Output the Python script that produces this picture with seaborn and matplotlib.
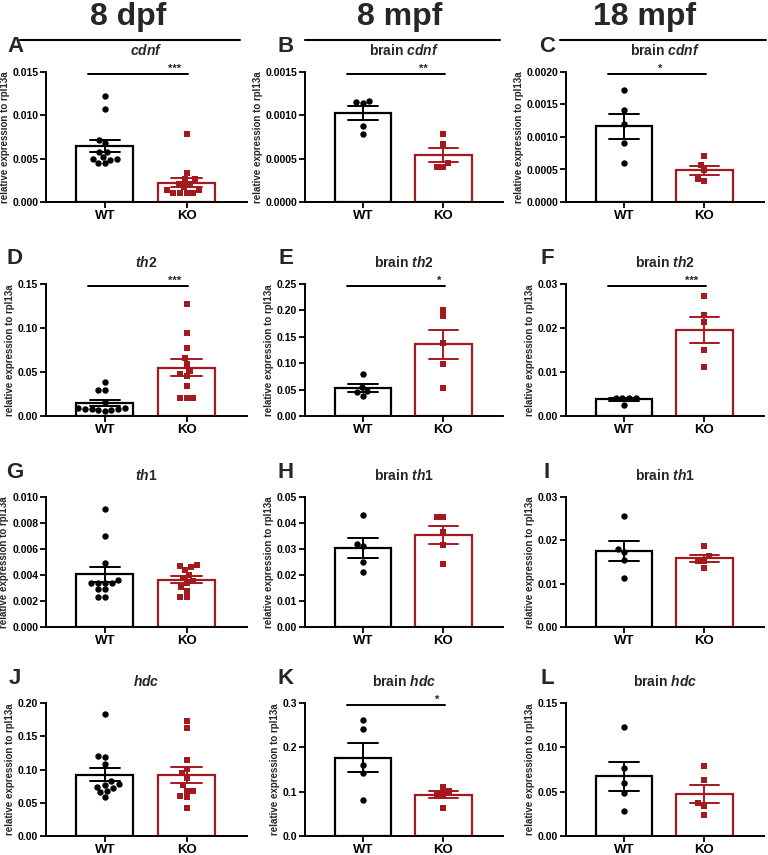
"""Recreate the 4x3 qPCR figure (WT vs KO, relative expression to rpl13a)."""

import matplotlib

matplotlib.use("Agg")
import matplotlib.pyplot as plt
import pandas as pd
import seaborn as sns
from matplotlib.lines import Line2D
from matplotlib.ticker import FormatStrFormatter, MultipleLocator

# ---- values ----
groups = ["WT", "KO"]
stage_labels = ["8 dpf", "8 mpf", "18 mpf"]
gene_rows = ["cdnf", "th2", "th1", "hdc"]
panel_letters = list("ABCDEFGHIJKL")

cdnf_8dpf_wt = [0.0122, 0.0107, 0.0072, 0.0068, 0.0058, 0.0058, 0.0050, 0.0049, 0.0050, 0.0052, 0.0045, 0.0045]
cdnf_8dpf_ko = [0.0079, 0.0033, 0.0026, 0.0026, 0.0021, 0.0021, 0.0017, 0.0014, 0.0014, 0.0010, 0.0010, 0.0010, 0.0010]
cdnf_8mpf_wt = [0.00115, 0.00114, 0.00116, 0.00088, 0.00079]
cdnf_8mpf_ko = [0.00078, 0.00067, 0.00045, 0.00040, 0.00040]
cdnf_18mpf_wt = [0.00172, 0.00141, 0.00120, 0.00090, 0.00060]
cdnf_18mpf_ko = [0.00071, 0.00057, 0.00049, 0.00036, 0.00032]

th2_8dpf_wt = [0.039, 0.030, 0.030, 0.016, 0.009, 0.008, 0.008, 0.007, 0.007, 0.008, 0.009, 0.006]
th2_8dpf_ko = [0.127, 0.094, 0.077, 0.066, 0.059, 0.051, 0.048, 0.045, 0.034, 0.020, 0.020, 0.020]
th2_8mpf_wt = [0.079, 0.055, 0.047, 0.045, 0.038]
th2_8mpf_ko = [0.201, 0.189, 0.139, 0.098, 0.053]
th2_18mpf_wt = [0.0042, 0.0041, 0.0040, 0.0042, 0.0026]
th2_18mpf_ko = [0.0273, 0.0230, 0.0214, 0.0151, 0.0111]

th1_8dpf_wt = [0.0091, 0.0070, 0.0049, 0.0036, 0.0034, 0.0034, 0.0034, 0.0034, 0.0029, 0.0029, 0.0023, 0.0023]
th1_8dpf_ko = [0.0048, 0.0046, 0.0047, 0.0044, 0.0040, 0.0038, 0.0035, 0.0034, 0.0031, 0.0028, 0.0023, 0.0023]
th1_8mpf_wt = [0.043, 0.032, 0.031, 0.025, 0.021]
th1_8mpf_ko = [0.0424, 0.0424, 0.0367, 0.0316, 0.0244]
th1_18mpf_wt = [0.0255, 0.0180, 0.0172, 0.0155, 0.0114]
th1_18mpf_ko = [0.0186, 0.0164, 0.0153, 0.0153, 0.0136]

hdc_8dpf_wt = [0.184, 0.120, 0.119, 0.109, 0.082, 0.078, 0.077, 0.074, 0.072, 0.068, 0.066, 0.059]
hdc_8dpf_ko = [0.173, 0.163, 0.115, 0.101, 0.094, 0.0875, 0.0765, 0.068, 0.068, 0.060, 0.058, 0.0415]
hdc_8mpf_wt = [0.261, 0.241, 0.160, 0.141, 0.081]
hdc_8mpf_ko = [0.110, 0.102, 0.093, 0.095, 0.064]
hdc_18mpf_wt = [0.123, 0.077, 0.060, 0.048, 0.028]
hdc_18mpf_ko = [0.079, 0.063, 0.037, 0.034, 0.024]

y_max = [0.015, 0.0015, 0.0020, 0.15, 0.25, 0.03, 0.010, 0.05, 0.03, 0.20, 0.3, 0.15]
y_step = [0.005, 0.0005, 0.0005, 0.05, 0.05, 0.01, 0.002, 0.01, 0.01, 0.05, 0.1, 0.05]
y_decimals = [3, 4, 4, 2, 2, 2, 3, 2, 2, 2, 1, 2]
sig_stars = ["***", "**", "*", "***", "*", "***", "", "", "", "", "*", ""]
star_x = [0.85, 0.75, 0.45, 0.85, 0.95, 0.84, 0, 0, 0, 0, 0.92, 0]

panel_data = [
    (cdnf_8dpf_wt, cdnf_8dpf_ko), (cdnf_8mpf_wt, cdnf_8mpf_ko), (cdnf_18mpf_wt, cdnf_18mpf_ko),
    (th2_8dpf_wt, th2_8dpf_ko), (th2_8mpf_wt, th2_8mpf_ko), (th2_18mpf_wt, th2_18mpf_ko),
    (th1_8dpf_wt, th1_8dpf_ko), (th1_8mpf_wt, th1_8mpf_ko), (th1_18mpf_wt, th1_18mpf_ko),
    (hdc_8dpf_wt, hdc_8dpf_ko), (hdc_8mpf_wt, hdc_8mpf_ko), (hdc_18mpf_wt, hdc_18mpf_ko),
]

# ---- layout (pixels of the 768x855 canvas) ----
FIG_W, FIG_H = 768, 855
COL_X = [(46, 247), (305, 503), (566, 764)]
ROW_Y = [(72, 202), (284, 416), (497, 627), (703, 836)]
LETTER_X = [15, 286, 547]
HEADER_X = [128, 400, 645]
HEADER_LINES = [(20, 240), (305, 500), (560, 766)]

KO_RED = "#A3191E"
COLORS = {"WT": "black", "KO": KO_RED}
MARKERS = {"WT": "o", "KO": "s"}


def draw_panel(ax, wt, ko, idx, title):
    df = pd.DataFrame({"group": ["WT"] * len(wt) + ["KO"] * len(ko), "value": list(wt) + list(ko)})
    for g in groups:
        sub = df[df["group"] == g]
        sns.barplot(data=sub, x="group", y="value", order=groups, errorbar="se",
                    capsize=0.37, width=0.7, fill=False, color=COLORS[g], linewidth=1.6,
                    err_kws={"color": COLORS[g], "linewidth": 1.4}, ax=ax)
        sns.swarmplot(data=sub, x="group", y="value", order=groups, color=COLORS[g],
                      marker=MARKERS[g], size=4.6, ax=ax, zorder=3)

    ymax = y_max[idx]
    ax.set_ylim(0, ymax)
    ax.set_xlim(-0.72, 1.74)
    ax.yaxis.set_major_locator(MultipleLocator(y_step[idx]))
    ax.yaxis.set_major_formatter(FormatStrFormatter(f"%.{y_decimals[idx]}f"))
    ax.set_xlabel("")
    ax.set_ylabel("relative expression to rpl13a", fontsize=7, fontweight="bold", labelpad=2)
    ax.set_title(title, fontsize=10, fontweight="bold", pad=12)
    for lab in ax.get_yticklabels():
        lab.set_fontweight("bold")
    ax.tick_params(axis="y", labelsize=7.5, length=4, width=1.3, pad=1.5)
    ax.tick_params(axis="x", labelsize=9.5, length=4, width=1.3, pad=2)
    for lab in ax.get_xticklabels():
        lab.set_fontweight("bold")
    for side in ("left", "bottom"):
        ax.spines[side].set_linewidth(1.4)
    sns.despine(ax=ax)

    if sig_stars[idx]:
        y = 0.985 * ymax
        ax.plot([-0.2, 1.02], [y, y], color="black", linewidth=1.4, clip_on=False)
        ax.text(star_x[idx], y, sig_stars[idx], ha="center", va="bottom",
                fontsize=8, fontweight="bold")


def main():
    sns.set_theme(style="ticks")
    plt.rcParams["font.family"] = ["Liberation Sans", "DejaVu Sans"]
    plt.rcParams["mathtext.fontset"] = "custom"
    plt.rcParams["mathtext.rm"] = "Liberation Sans:bold"
    plt.rcParams["mathtext.it"] = "Liberation Sans:italic:bold"
    plt.rcParams["axes.edgecolor"] = "black"
    plt.rcParams["xtick.color"] = "black"
    plt.rcParams["ytick.color"] = "black"

    fig = plt.figure(figsize=(FIG_W / 100, FIG_H / 100), dpi=100)

    for i, (wt, ko) in enumerate(panel_data):
        r, c = divmod(i, 3)
        l, rt = COL_X[c]
        t, b = ROW_Y[r]
        ax = fig.add_axes([l / FIG_W, 1 - b / FIG_H, (rt - l) / FIG_W, (b - t) / FIG_H])
        gene = gene_rows[r]
        title = f"$\\mathit{{{gene}}}$" if c == 0 else f"brain $\\mathit{{{gene}}}$"
        draw_panel(ax, wt, ko, i, title)
        fig.text(LETTER_X[c] / FIG_W, 1 - (t - 25) / FIG_H, panel_letters[i],
                 fontsize=16, fontweight="bold", ha="center", va="center")

    for x, label in zip(HEADER_X, stage_labels):
        fig.text(x / FIG_W, 1 - 17 / FIG_H, label, fontsize=23, fontweight="bold",
                 ha="center", va="center")
    for x0, x1 in HEADER_LINES:
        fig.add_artist(Line2D([x0 / FIG_W, x1 / FIG_W], [1 - 40 / FIG_H] * 2,
                              color="black", linewidth=1.5))

    fig.savefig("out.png", dpi=100)
    plt.close(fig)


if __name__ == "__main__":
    main()
